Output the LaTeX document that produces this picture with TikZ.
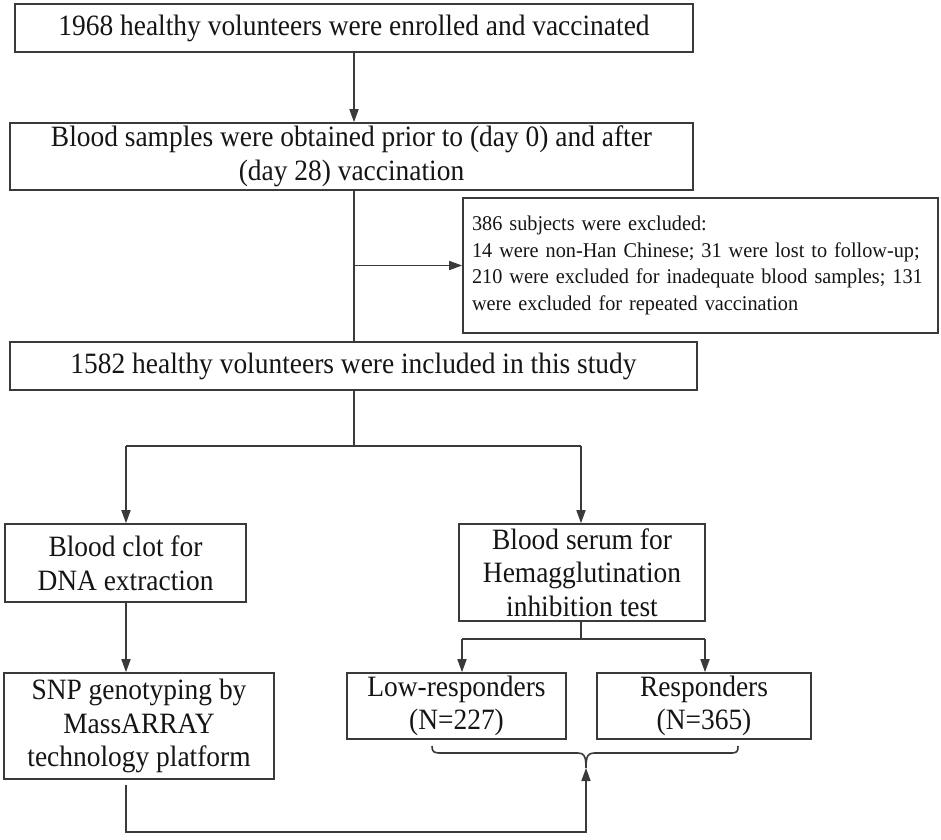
\documentclass[tikz,border=0pt]{standalone}
\usepackage{fontspec}
\setmainfont[FakeStretch=0.93]{Liberation Serif}
\newfontfamily\exfont[FakeStretch=0.965]{Liberation Serif}
\usetikzlibrary{arrows.meta,calc}
\definecolor{ln}{HTML}{3A3A3A}
\definecolor{tx}{HTML}{151515}
\begin{document}
\begin{tikzpicture}[x=1pt,y=-1pt,
  box/.style={draw=ln, line width=1.6pt, inner sep=0pt, align=center, text=tx,
    font=\fontsize{29.5}{33.5}\selectfont},
  exbox/.style={draw=ln, line width=1.6pt, inner sep=0pt, align=left, text=tx,
    font=\exfont\fontsize{21}{26.5}\selectfont},
  conn/.style={draw=ln, line width=1.6pt},
  arr/.style={conn, -{Triangle[length=13pt,width=9pt]}}]
\useasboundingbox (0,0) rectangle (941,839);
\fill[white] (0,0) rectangle (941,839);

\node[box, minimum width=678pt, minimum height=48pt] (b1) at (354,28)
  {1968 healthy volunteers were enrolled and vaccinated};
\node[box, minimum width=683pt, minimum height=67pt] (b2) at (351.5,156.5)
  {Blood samples were obtained prior to (day 0) and after\\(day 28) vaccination};
\node[exbox, minimum width=475pt, minimum height=135pt, text width=457pt] (ex) at (700.5,265.5)
  {\mbox{386 subjects were excluded:}\\\mbox{14 were non-Han Chinese; 31 were lost to follow-up;}\\\mbox{210 were excluded for inadequate blood samples; 131}\\\mbox{were excluded for repeated vaccination}};
\node[box, minimum width=687pt, minimum height=48pt] (b3) at (353.5,366)
  {1582 healthy volunteers were included in this study};
\node[box, minimum width=241pt, minimum height=78pt] (b4) at (125.5,563)
  {Blood clot for\\DNA extraction};
\node[box, minimum width=246pt, minimum height=97pt] (b5) at (582,572.5)
  {Blood serum for\\Hemagglutination\\inhibition test};
\node[box, minimum width=270pt, minimum height=106pt] (b6) at (139,726)
  {SNP genotyping by\\MassARRAY\\technology platform};
\node[box, minimum width=219pt, minimum height=66pt] (b7) at (456.5,706)
  {Low-responders\\(N=227)};
\node[box, minimum width=214pt, minimum height=66pt] (b8) at (704,706)
  {Responders\\(N=365)};

\coordinate (m) at (354,0);
\coordinate (s1) at (354,446);
\coordinate (s1l) at (126,446);
\coordinate (s1r) at (581,446);
\coordinate (s2) at (581,639);
\coordinate (s2l) at (462,639);
\coordinate (s2r) at (705,639);
\coordinate (bt) at (586,768);
\coordinate (g6) at (126,785);
\coordinate (bot) at (126,832);

\draw[arr] (m |- b1.south) -- (m |- b2.north);
\draw[conn] (m |- b2.south) -- (m |- b3.north);
\draw[arr] (m |- ex.west) -- (ex.west);
\draw[conn] (m |- b3.south) -- (s1);
\draw[conn] (s1l) -- (s1r);
\draw[arr] (s1l) -- (s1l |- b4.north);
\draw[arr] (s1r) -- (s1r |- b5.north);
\draw[arr] (s1l |- b4.south) -- (s1l |- b6.north);
\draw[conn] (s2 |- b5.south) -- (s2);
\draw[conn] (s2l) -- (s2r);
\draw[arr] (s2l) -- (s2l |- b7.north);
\draw[arr] (s2r) -- (s2r |- b8.north);
% brace
\draw[conn] (432,746) .. controls (432,752) and (434,753) .. (441,753)
  -- (578,753) .. controls (584,753) and (586,756) .. (bt)
  .. controls (586,756) and (588,753) .. (594,753)
  -- (730,753) .. controls (737,753) and (738,752) .. (738,746);
\draw[arr] (g6) -- (bot) -- (bot -| bt) -- (bt);
\end{tikzpicture}
\end{document}
